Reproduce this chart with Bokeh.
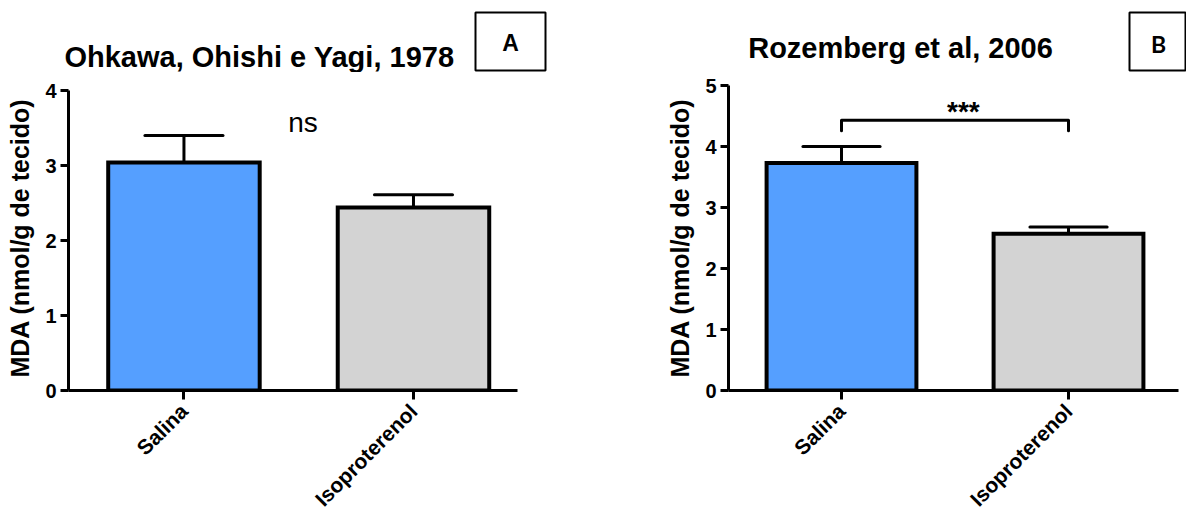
import math
from bokeh.plotting import figure
from bokeh.layouts import row, column
from bokeh.models import Range1d, FixedTicker
from bokeh.core.properties import value
from bokeh.embed import file_html
from bokeh.resources import INLINE

# ---------------- data ----------------
categories = ["Salina", "Isoproterenol"]
bar_colors = ["#559FFF", "#D3D3D3"]

a_title = "Ohkawa, Ohishi e Yagi, 1978"
a_means = [3.04, 2.44]
a_sem = [0.36, 0.17]
a_yticks = [0, 1, 2, 3, 4]

b_title = "Rozemberg et al, 2006"
b_means = [3.73, 2.57]
b_sem = [0.27, 0.11]
b_yticks = [0, 1, 2, 3, 4, 5]

y_label = "MDA (nmol/g de tecido)"
a_sig = "ns"
b_sig = "***"
panel_tags = ["A", "B"]

FONT = value("Liberation Sans")
TOP_H = 72
W_A, W_B = 590, 596
H = 524
PLOT_H = H - TOP_H
BORDER_TOP = 13
BORDER_BOTTOM = 134
FRAME_H = PLOT_H - BORDER_TOP - BORDER_BOTTOM  # 305


def header(width, x0, title, tx, ty, tag, box, tag_xy, tag_font):
    p = figure(width=width, height=TOP_H, output_backend="svg", toolbar_location=None,
               x_range=Range1d(x0, x0 + width), y_range=Range1d(TOP_H, 0),
               x_axis_type=None, y_axis_type=None, tools="",
               min_border=0, min_border_left=0, min_border_right=0,
               min_border_top=0, min_border_bottom=0)
    p.outline_line_color = None
    p.grid.visible = False
    p.text(x=[tx], y=[ty], text=[title], text_font=FONT, text_font_style="bold",
           text_font_size="29px", text_align="center", text_baseline="alphabetic",
           text_color="black")
    l, r, t, b = box
    p.quad(left=[l], right=[r], top=[t], bottom=[b], fill_color=None,
           line_color="black", line_width=2)
    p.text(x=[tag_xy[0]], y=[tag_xy[1]], text=[tag], text_font=value(tag_font),
           text_font_style="bold", text_font_size="23px", text_align="center",
           text_baseline="middle", text_color="black")
    return p


def make_panel(width, border_left, xr, yr, yticks, ybounds, xbounds):
    p = figure(width=width, height=PLOT_H, output_backend="svg", toolbar_location=None,
               x_range=Range1d(*xr), y_range=Range1d(*yr),
               min_border_left=border_left, min_border_right=0,
               min_border_top=BORDER_TOP, min_border_bottom=BORDER_BOTTOM,
               tools="")
    p.outline_line_color = None
    p.grid.visible = False

    xa = p.xaxis[0]
    xa.ticker = FixedTicker(ticks=list(range(len(categories))))
    xa.major_label_overrides = {i: c for i, c in enumerate(categories)}
    xa.major_label_orientation = math.pi / 4
    xa.bounds = xbounds
    ya = p.yaxis[0]
    ya.ticker = FixedTicker(ticks=yticks)
    ya.bounds = ybounds
    ya.axis_label = y_label
    for ax in (xa, ya):
        ax.axis_line_width = 3
        ax.axis_line_color = "black"
        ax.major_tick_line_width = 3
        ax.major_tick_line_color = "black"
        ax.major_tick_in = 0
        ax.minor_tick_line_color = None
        ax.major_label_text_font = "Liberation Sans"
        ax.major_label_text_font_style = "bold"
        ax.major_label_text_color = "black"
    xa.major_label_text_font_size = "21px"
    xa.major_label_standoff = 8
    ya.major_label_text_font_size = "20px"
    ya.major_label_standoff = 4
    xa.major_tick_out = 9
    ya.major_tick_out = 8
    ya.axis_label_text_font = "Liberation Sans"
    ya.axis_label_text_font_style = "bold"
    ya.axis_label_text_font_size = "25px"
    ya.axis_label_text_color = "black"
    ya.axis_label_standoff = 8
    return p


def draw_bars(p, means, sem):
    xs = list(range(len(categories)))
    tops = [m + s for m, s in zip(means, sem)]
    p.segment(x0=xs, y0=means, x1=xs, y1=tops, line_color="black", line_width=3)
    p.vbar(x=xs, top=means, bottom=0, width=0.66, fill_color=bar_colors,
           line_color="black", line_width=4, line_join="miter")
    cap = 0.17
    p.segment(x0=[x - cap for x in xs], y0=tops, x1=[x + cap for x in xs], y1=tops,
              line_color="black", line_width=3, line_cap="round")


# ---------------- headers ----------------
hA = header(W_A, 0, a_title, 259, 56, panel_tags[0], (475, 545, 12, 70), (510, 42), "Liberation Sans")
hB = header(W_B, W_A, b_title, 900, 47, panel_tags[1], (1129, 1185, 12, 70), (1158, 43), "Lato")

# panel A: 75 px per unit
pA = make_panel(W_A, 68, (-0.503, 1.7712), (0, FRAME_H / 75), a_yticks, (0, 4), (-0.503, 1.453))
draw_bars(pA, a_means, a_sem)
pA.text(x=[0.5185], y=[3.573], text=[a_sig], text_font=FONT, text_font_style="normal",
        text_font_size="28px", text_align="center", text_baseline="alphabetic", text_color="black")

# panel B: 61 px per unit
pB = make_panel(W_B, 138, (-0.4978, 1.5198), (0, FRAME_H / 61), b_yticks, (0, 5), (-0.4978, 1.4846))
draw_bars(pB, b_means, b_sem)
br_top, br_bot = 4.43, 4.26
pB.multi_line(xs=[[0, 0, 1, 1]], ys=[[br_bot, br_top, br_top, br_bot]], line_color="black",
              line_width=3, line_join="round", line_cap="round")
pB.text(x=[0.537], y=[4.58], text=[b_sig], text_font=FONT, text_font_style="bold",
        text_font_size="28px", text_align="center", text_baseline="alphabetic", text_color="black")

layout = column(row(hA, hB), row(pA, pB))
open("out.html", "w").write(file_html(layout, INLINE))
